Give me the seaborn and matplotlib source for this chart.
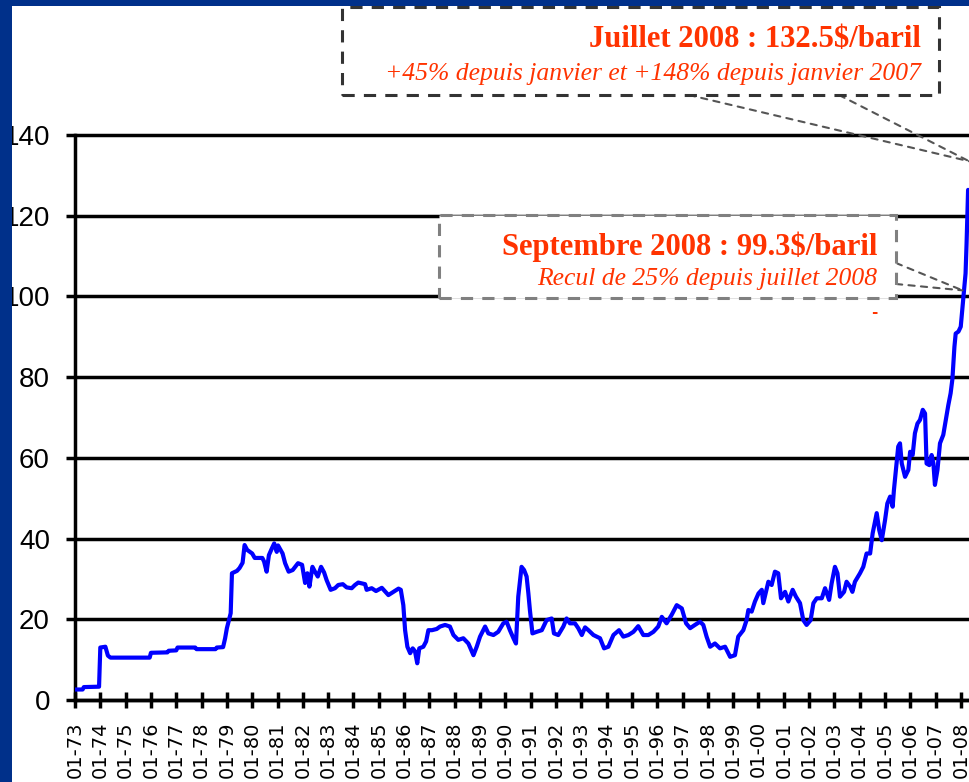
import matplotlib
matplotlib.use("Agg")
import matplotlib.pyplot as plt
import matplotlib.font_manager as fm
from matplotlib.patches import Rectangle
from matplotlib.patches import ConnectionPatch
import seaborn as sns
import pandas as pd

# ---------------- data ----------------
years = [
    1973.0, 1973.3, 1973.35, 1973.95, 1974.0, 1974.2, 1974.3, 1974.4, 1975.95, 1976.0,
    1976.65, 1976.7, 1977.0, 1977.05, 1977.75, 1977.8, 1978.55, 1978.6, 1978.85, 1978.93,
    1979.0, 1979.08, 1979.15, 1979.2, 1979.4, 1979.5, 1979.62, 1979.7, 1979.8, 1980.0,
    1980.1, 1980.4, 1980.47, 1980.57, 1980.66, 1980.78, 1980.87, 1980.97, 1981.02, 1981.2,
    1981.3, 1981.44, 1981.6, 1981.81, 1981.97, 1982.09, 1982.18, 1982.26, 1982.38, 1982.48,
    1982.59, 1982.72, 1982.84, 1982.94, 1983.1, 1983.27, 1983.4, 1983.58, 1983.73, 1983.93,
    1984.06, 1984.19, 1984.46, 1984.52, 1984.72, 1984.89, 1985.12, 1985.38, 1985.58, 1985.78,
    1985.87, 1985.97, 1986.04, 1986.13, 1986.24, 1986.34, 1986.43, 1986.52, 1986.6, 1986.76,
    1986.87, 1986.96, 1987.1, 1987.29, 1987.42, 1987.62, 1987.81, 1987.95, 1988.14, 1988.34,
    1988.54, 1988.74, 1988.87, 1989.0, 1989.2, 1989.33, 1989.53, 1989.72, 1989.92, 1990.05,
    1990.18, 1990.32, 1990.42, 1990.51, 1990.64, 1990.74, 1990.84, 1990.91, 1990.97, 1991.07,
    1991.24, 1991.44, 1991.63, 1991.83, 1991.92, 1992.09, 1992.29, 1992.42, 1992.55, 1992.75,
    1992.88, 1993.02, 1993.15, 1993.28, 1993.48, 1993.74, 1993.9, 1994.07, 1994.27, 1994.49,
    1994.66, 1994.86, 1995.06, 1995.25, 1995.45, 1995.65, 1995.85, 1996.04, 1996.18, 1996.37,
    1996.57, 1996.77, 1996.97, 1997.14, 1997.3, 1997.49, 1997.69, 1997.82, 1997.95, 1998.09,
    1998.28, 1998.48, 1998.68, 1998.88, 1999.07, 1999.2, 1999.4, 1999.53, 1999.6, 1999.73,
    1999.86, 2000.0, 2000.13, 2000.19, 2000.28, 2000.39, 2000.52, 2000.65, 2000.78, 2000.89,
    2001.05, 2001.18, 2001.35, 2001.48, 2001.64, 2001.77, 2001.9, 2002.06, 2002.17, 2002.3,
    2002.5, 2002.63, 2002.79, 2002.89, 2003.02, 2003.12, 2003.22, 2003.38, 2003.48, 2003.62,
    2003.71, 2003.81, 2004.01, 2004.14, 2004.27, 2004.41, 2004.51, 2004.67, 2004.77, 2004.87,
    2005.0, 2005.09, 2005.2, 2005.3, 2005.35, 2005.43, 2005.52, 2005.59, 2005.66, 2005.79,
    2005.92, 2005.99, 2006.09, 2006.18, 2006.28, 2006.38, 2006.49, 2006.58, 2006.64, 2006.75,
    2006.84, 2006.91, 2006.97, 2007.07, 2007.17, 2007.3, 2007.41, 2007.5, 2007.59, 2007.66,
    2007.7, 2007.74, 2007.79, 2007.9, 2007.99, 2008.05, 2008.12, 2008.18, 2008.22, 2008.28,
]
prices = [
    2.6, 2.6, 3.2, 3.3, 13.0, 13.2, 11.0, 10.5, 10.5, 11.7,
    11.8, 12.2, 12.3, 13.0, 13.0, 12.6, 12.6, 13.0, 13.1, 15.3,
    17.8, 19.8, 21.5, 31.4, 32.0, 32.7, 34.0, 38.4, 37.2, 36.3,
    35.2, 35.2, 34.3, 31.8, 35.9, 37.6, 38.8, 36.7, 38.3, 36.3,
    33.9, 31.8, 32.2, 33.9, 33.5, 29.0, 31.4, 28.1, 33.0, 31.8,
    30.6, 33.0, 31.6, 29.7, 27.3, 27.7, 28.5, 28.7, 27.9, 27.7,
    28.5, 29.1, 28.7, 27.3, 27.7, 27.0, 27.8, 26.0, 26.8, 27.6,
    27.3, 23.5, 17.3, 13.2, 11.6, 12.8, 12.1, 9.1, 12.8, 13.2,
    14.5, 17.3, 17.3, 17.6, 18.2, 18.6, 18.2, 16.1, 14.9, 15.3,
    14.0, 11.1, 13.2, 15.7, 18.2, 16.5, 16.1, 16.9, 19.0, 19.4,
    17.3, 15.3, 14.0, 25.6, 33.0, 32.2, 30.6, 26.4, 22.3, 16.5,
    16.9, 17.3, 19.8, 20.2, 16.5, 16.1, 18.2, 20.2, 19.0, 19.0,
    17.8, 16.1, 18.0, 17.3, 16.1, 15.3, 12.8, 13.2, 16.1, 17.3,
    15.7, 16.1, 16.9, 18.3, 16.1, 16.1, 16.9, 18.2, 20.6, 19.0,
    21.1, 23.5, 22.7, 19.0, 17.8, 18.6, 19.4, 18.6, 15.7, 13.2,
    14.0, 12.8, 13.2, 10.7, 11.1, 15.7, 17.3, 19.8, 22.3, 21.9,
    24.4, 26.4, 27.3, 24.0, 26.4, 29.3, 28.5, 31.8, 31.4, 25.2,
    26.8, 24.4, 27.3, 25.6, 24.0, 19.8, 18.6, 19.8, 24.0, 25.2,
    25.2, 27.7, 24.8, 28.9, 33.0, 31.4, 25.6, 26.8, 29.3, 28.1,
    26.8, 29.3, 31.4, 33.0, 36.3, 36.3, 41.3, 46.3, 42.1, 39.6,
    44.6, 48.7, 50.4, 47.9, 52.0, 57.0, 62.8, 63.6, 58.6, 55.3,
    57.0, 61.5, 60.7, 66.1, 68.5, 69.4, 71.9, 71.0, 58.6, 58.2,
    60.7, 58.6, 53.3, 57.0, 63.6, 65.7, 69.8, 73.1, 76.0, 79.5,
    83.4, 87.5, 90.8, 91.3, 92.5, 96.6, 101.6, 105.7, 113.1, 126.4,
]
tick_years = list(range(1973, 2009))
tick_labels = [f"01-{y % 100:02d}" for y in tick_years]
y_ticks = [0, 20, 40, 60, 80, 100, 120, 140]

callout1_title = "Juillet 2008 : 132.5$/baril"
callout1_sub = "+45% depuis janvier et +148% depuis janvier 2007"
callout2_title = "Septembre 2008 : 99.3$/baril"
callout2_sub = "Recul de 25% depuis juillet 2008"
july_point = (2008.32, 133.5)
sept_point = (2008.06, 101.5)

# ---------------- fonts ----------------
available = {f.name for f in fm.fontManager.ttflist}
def pick(*names):
    for n in names:
        if n in available:
            return n
    return "DejaVu Sans"

narrow_font = pick("Liberation Sans Narrow", "DejaVu Sans Condensed", "Liberation Sans")
xlab_font = pick("DejaVu Sans")
serif_font = pick("DejaVu Serif Condensed", "Liberation Serif", "DejaVu Serif")

sns.set_style("white")
plt.rcParams["font.family"] = ["DejaVu Sans"]

W, H, DPI = 969, 782, 100
fig = plt.figure(figsize=(W / DPI, H / DPI), dpi=DPI, facecolor="white")

# axes geometry in pixels
ax_left, ax_right, ax_top, ax_bottom = 75, 975, 135, 700
ax = fig.add_axes([ax_left / W, (H - ax_bottom) / H,
                   (ax_right - ax_left) / W, (ax_bottom - ax_top) / H])
ax.set_facecolor("white")

df = pd.DataFrame({"year": years, "price": prices})
sns.lineplot(data=df, x="year", y="price", ax=ax, color="#0000FF",
             linewidth=3.0, estimator=None, sort=False, zorder=5)

px_per_year = 886 / 35.0
ax.set_xlim(1973, 1973 + (ax_right - ax_left) / px_per_year)
ax.set_ylim(0, 140)
ax.set_xlabel("")
ax.set_ylabel("")

ax.set_yticks(y_ticks)
ax.set_yticklabels([str(v) for v in y_ticks], fontsize=20, family=narrow_font)
ax.set_xticks(tick_years)
ax.set_xticklabels(tick_labels, rotation=90, fontsize=14, family=xlab_font,
                   va="top", ha="center")

ax.tick_params(axis="y", direction="out", length=6.5, width=2.5, pad=11.5,
               colors="black", left=True)
ax.tick_params(axis="x", direction="inout", length=11.5, width=2.5, pad=9.5,
               colors="black", bottom=True)

ax.yaxis.grid(True, color="black", linewidth=2.5)
ax.xaxis.grid(False)
for gl in ax.get_ygridlines():
    gl.set_clip_on(False)
for s in ["top", "right"]:
    ax.spines[s].set_visible(False)
for s in ["left", "bottom"]:
    ax.spines[s].set_visible(True)
    ax.spines[s].set_color("black")
    ax.spines[s].set_linewidth(2.5)

# ---------------- callouts ----------------
red = "#FF3300"
renderer = fig.canvas.get_renderer()

def fit_text(x_right, y_base, s, width_px, **kw):
    t = fig.text(x_right / W, (H - y_base) / H, s, fontsize=20, ha="right",
                 va="baseline", color=red, zorder=10, **kw)
    w = t.get_window_extent(renderer).width
    t.set_fontsize(20 * width_px / w)
    return t

def box(x0, y0, x1, y1, color):
    r = Rectangle((x0 / W, (H - y1) / H), (x1 - x0) / W, (y1 - y0) / H,
                  transform=fig.transFigure, facecolor="white", edgecolor=color,
                  linewidth=2.2, linestyle=(0, (4, 3)), zorder=8)
    fig.patches.append(r)

def connector(x, y, pt):
    c = ConnectionPatch(xyA=(x, H - y), coordsA="figure pixels",
                        xyB=pt, coordsB=ax.transData, color="#555555",
                        linewidth=1.5, linestyle=(0, (3, 3)), zorder=7)
    fig.add_artist(c)

box(342, 7, 939, 95, "#333333")
fit_text(921, 47, callout1_title, 332, family=serif_font, fontweight="bold")
fit_text(921, 80, callout1_sub, 536, family=serif_font, fontstyle="italic")
connector(689, 95, july_point)
connector(839, 95, july_point)

box(439, 215, 896, 298, "#808080")
fit_text(877, 255, callout2_title, 375, family=serif_font, fontweight="bold")
fit_text(877, 285, callout2_sub, 340, family=serif_font, fontstyle="italic")
connector(896, 263, sept_point)
connector(896, 284, sept_point)
fig.text(874 / W, (H - 312) / H, "-", color=red, fontsize=11, ha="center",
         va="center", fontweight="bold")

# ---------------- navy frame ----------------
navy = "#00308A"
fig.patches.append(Rectangle((0, 0), 12 / W, 1, transform=fig.transFigure,
                             facecolor=navy, edgecolor="none", zorder=20))
fig.patches.append(Rectangle((0, 1 - 6 / H), 1, 6 / H, transform=fig.transFigure,
                             facecolor=navy, edgecolor="none", zorder=20))

fig.savefig("out.png", dpi=DPI, facecolor="white")
